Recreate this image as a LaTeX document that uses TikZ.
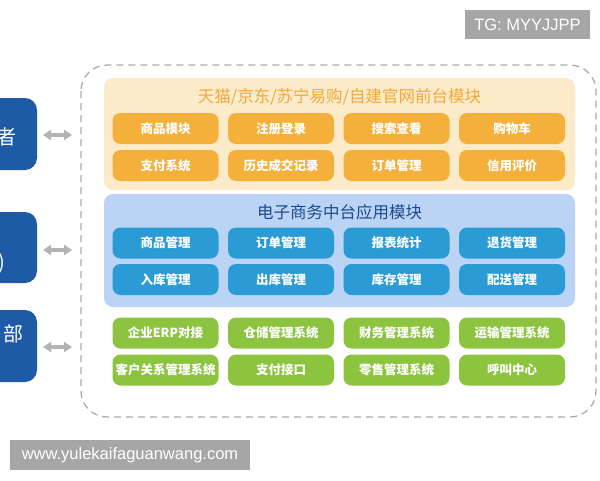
\documentclass[tikz,border=0pt]{standalone}
\usepackage{fontspec}
\setmainfont{Noto Sans CJK SC}
\newfontfamily\wmfont{Liberation Sans}
\usetikzlibrary{arrows.meta}
\definecolor{leftblue}{HTML}{1F5AA6}
\definecolor{panelyellow}{HTML}{FBEBC9}
\definecolor{boxorange}{HTML}{F4B03A}
\definecolor{titleorange}{HTML}{F2A93B}
\definecolor{panelblue}{HTML}{BBD4F6}
\definecolor{boxblue}{HTML}{2B9BD6}
\definecolor{titleblue}{HTML}{1E4A8A}
\definecolor{boxgreen}{HTML}{8CC43F}
\definecolor{framegray}{HTML}{AAAAAA}
\definecolor{arrowgray}{HTML}{B3B3B3}
\definecolor{wmgray}{HTML}{A6A6A6}
\tikzset{
  modbox/.style={rounded corners=8pt, minimum width=106pt, minimum height=31pt, inner sep=0pt, text=white, font=\fontsize{12.5}{14}\selectfont\bfseries},
  obox/.style={modbox, fill=boxorange},
  bbox/.style={modbox, fill=boxblue},
  gbox/.style={modbox, fill=boxgreen},
  sidebox/.style={fill=leftblue, rounded corners=12pt},
  sidetext/.style={text=white, font=\fontsize{20}{22}\selectfont, inner sep=0pt},
  biarrow/.style={draw=arrowgray, line width=4pt, {Triangle[width=10pt,length=8pt]}-{Triangle[width=10pt,length=8pt]}},
  wmbox/.style={fill=wmgray, text=white, inner sep=0pt, font=\wmfont\fontsize{16.5}{18}\selectfont},
}
\begin{document}
\begin{tikzpicture}[x=1pt,y=-1pt]
\useasboundingbox (0,0) rectangle (600,480);
\clip (0,0) rectangle (600,480);
% left boxes
\fill[sidebox] (-30,98) rectangle (37,170);
\fill[sidebox] (-30,212) rectangle (37,283);
\fill[sidebox] (-30,310) rectangle (37,382);
\node[sidetext] (s1) at (6,137) {者};
\node[sidetext, anchor=east] (s2) at (5,263) {)};
\node[sidetext, anchor=east] (s3) at (24,334) {部};
% arrows
\coordinate (a1l) at (43,135); \coordinate (a1r) at (72,135);
\coordinate (a2l) at (43,250); \coordinate (a2r) at (72,250);
\coordinate (a3l) at (43,347); \coordinate (a3r) at (72,347);
\draw[biarrow] (a1l) -- (a1r);
\draw[biarrow] (a2l) -- (a2r);
\draw[biarrow] (a3l) -- (a3r);
% dashed frame
\draw[framegray, line width=1.3pt, dash pattern=on 7pt off 5pt, rounded corners=26pt] (81,65) rectangle (596,417);
% panels
\fill[panelyellow, rounded corners=9pt] (104,78) rectangle (575,190);
\fill[panelblue, rounded corners=9pt] (104,194) rectangle (575,307);
\node[text=titleorange, font=\fontsize{16.5}{18}\selectfont, inner sep=0pt] (t1) at (339.5,97) {天猫/京东/苏宁易购/自建官网前台模块};
\node[text=titleblue, font=\fontsize{16.5}{18}\selectfont, inner sep=0pt] (t2) at (339.5,212) {电子商务中台应用模块};
% orange
\node[obox] (o1) at (165.5,128.5) {商品模块};
\node[obox] (o2) at (281,128.5) {注册登录};
\node[obox] (o3) at (396.5,128.5) {搜索查看};
\node[obox] (o4) at (512,128.5) {购物车};
\node[obox] (o5) at (165.5,165.5) {支付系统};
\node[obox] (o6) at (281,165.5) {历史成交记录};
\node[obox] (o7) at (396.5,165.5) {订单管理};
\node[obox] (o8) at (512,165.5) {信用评价};
% blue
\node[bbox] (b1) at (165.5,243) {商品管理};
\node[bbox] (b2) at (281,243) {订单管理};
\node[bbox] (b3) at (396.5,243) {报表统计};
\node[bbox] (b4) at (512,243) {退货管理};
\node[bbox] (b5) at (165.5,279.5) {入库管理};
\node[bbox] (b6) at (281,279.5) {出库管理};
\node[bbox] (b7) at (396.5,279.5) {库存管理};
\node[bbox] (b8) at (512,279.5) {配送管理};
% green
\node[gbox] (g1) at (165.5,333) {企业ERP对接};
\node[gbox] (g2) at (281,333) {仓储管理系统};
\node[gbox] (g3) at (396.5,333) {财务管理系统};
\node[gbox] (g4) at (512,333) {运输管理系统};
\node[gbox] (g5) at (165.5,370) {客户关系管理系统};
\node[gbox] (g6) at (281,370) {支付接口};
\node[gbox] (g7) at (396.5,370) {零售管理系统};
\node[gbox] (g8) at (512,370) {呼叫中心};
% watermarks
\node[wmbox, minimum width=240pt, minimum height=30pt] (w1) at (130,455) {www.yulekaifaguanwang.com};
\node[wmbox, minimum width=125pt, minimum height=29pt] (w2) at (527.5,24.5) {TG: MYYJJPP};
\end{tikzpicture}
\end{document}
